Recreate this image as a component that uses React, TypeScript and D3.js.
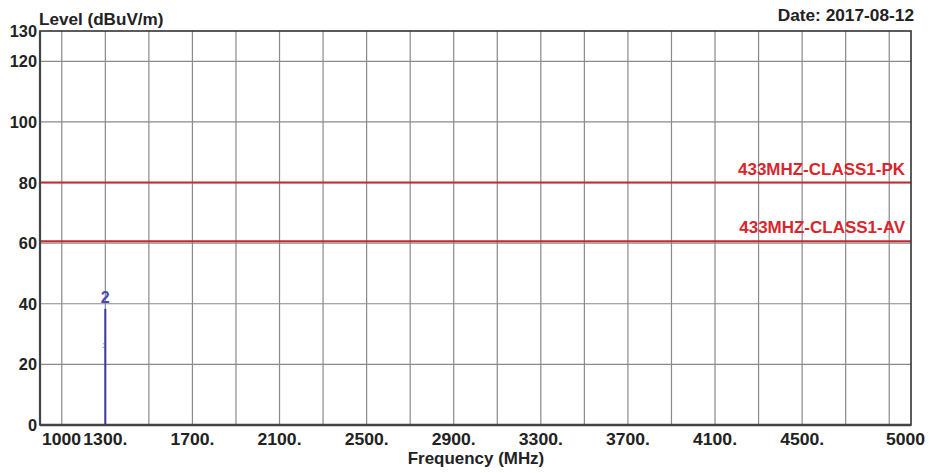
import React, { useEffect, useRef } from "react";
import * as d3 from "d3";

// Axis ranges and grid
const freqDomain: [number, number] = [1000, 5000];
const levelDomain: [number, number] = [0, 130];
const freqGrid = [1100, 1300, 1500, 1700, 1900, 2100, 2300, 2500, 2700, 2900, 3100, 3300, 3500, 3700, 3900, 4100, 4300, 4500, 4700, 4900];
const freqTickLabels = ["1300.", "1700.", "2100.", "2500.", "2900.", "3300.", "3700.", "4100.", "4500."];
const freqTickValues = [1300, 1700, 2100, 2500, 2900, 3300, 3700, 4100, 4500];
const levelGrid = [20, 40, 60, 80, 100, 120];
const levelTicks = [0, 20, 40, 60, 80, 100, 120, 130];

// Limit lines
const limitNames = ["433MHZ-CLASS1-PK", "433MHZ-CLASS1-AV"];
const limitLevels = [80, 60.6];

// Measured trace (single emission at 1300 MHz)
const traceFreq = [1300, 1300];
const traceLevel = [0, 38.3];

// Markers
const markerIds = ["1", "2"];
const markerFreq = [1300, 1300];
const markerLevel = [26.5, 38.3];

const W = 929;
const H = 473;
const M = { left: 40, right: 911, top: 31, bottom: 425 };
const FONT = "'Liberation Sans', Arial, sans-serif";

export default function App() {
  const ref = useRef<SVGSVGElement>(null);

  useEffect(() => {
    const svg = d3.select(ref.current);
    svg.selectAll("*").remove();

    const x = d3.scaleLinear().domain(freqDomain).range([M.left, M.right]);
    const y = d3.scaleLinear().domain(levelDomain).range([M.bottom, M.top]);

    const txt = (
      s: string,
      px: number,
      py: number,
      anchor: string,
      size: number,
      color: string,
      sx = 1.1,
      weight = "bold"
    ) =>
      svg
        .append("text")
        .attr("transform", `translate(${px},${py}) scale(${sx},1)`)
        .attr("text-anchor", anchor)
        .attr("font-family", FONT)
        .attr("font-size", size)
        .attr("font-weight", weight)
        .attr("fill", color)
        .text(s);

    svg.append("rect").attr("width", W).attr("height", H).attr("fill", "#fff");

    // grid
    const g = svg.append("g").attr("stroke", "#8a8a8a").attr("stroke-width", 1.2);
    freqGrid.forEach((f) => {
      g.append("line").attr("x1", x(f)).attr("x2", x(f)).attr("y1", M.top).attr("y2", M.bottom);
    });
    levelGrid.forEach((l) => {
      g.append("line").attr("x1", M.left).attr("x2", M.right).attr("y1", y(l)).attr("y2", y(l));
    });

    // limit lines
    limitLevels.forEach((l, i) => {
      svg
        .append("line")
        .attr("x1", M.left)
        .attr("x2", M.right)
        .attr("y1", y(l))
        .attr("y2", y(l))
        .attr("stroke", "#c42a30")
        .attr("stroke-width", 2);
      txt(limitNames[i], 905, y(l) - 8, "end", 16.5, "#d8262e", 1.03);
    });

    // trace
    const line = d3
      .line<number>()
      .x((_, i) => x(traceFreq[i]))
      .y((d) => y(d));
    svg
      .append("path")
      .attr("d", line(traceLevel))
      .attr("fill", "none")
      .attr("stroke", "#3a3a9c")
      .attr("stroke-width", 2);

    // markers
    markerIds.forEach((id, i) => {
      if (id === "1") {
        txt(id, x(markerFreq[i]) - 1, y(markerLevel[i]) + 3, "middle", 8, "#5a6ad0", 1, "normal");
      } else {
        txt(id, x(markerFreq[i]), y(markerLevel[i]) - 6, "middle", 16, "#4848b8", 1, "bold");
      }
    });

    // frame
    svg
      .append("rect")
      .attr("x", M.left)
      .attr("y", M.top)
      .attr("width", M.right - M.left)
      .attr("height", M.bottom - M.top)
      .attr("fill", "none")
      .attr("stroke", "#333")
      .attr("stroke-width", 1.6);
    svg
      .append("line")
      .attr("x1", M.left)
      .attr("x2", M.right)
      .attr("y1", M.bottom)
      .attr("y2", M.bottom)
      .attr("stroke", "#444")
      .attr("stroke-width", 2.4);
    svg
      .append("line")
      .attr("x1", M.left)
      .attr("x2", M.left)
      .attr("y1", M.top)
      .attr("y2", M.bottom)
      .attr("stroke", "#444")
      .attr("stroke-width", 2.2);

    // y tick labels
    levelTicks.forEach((l) => {
      txt(String(l), 37, y(l) + 6, "end", 16, "#222", 1.02);
    });

    // x tick labels
    freqTickValues.forEach((f, i) => {
      txt(freqTickLabels[i], x(f), 445, "middle", 16, "#222");
    });
    txt("1000", 42, 445, "start", 16, "#222");
    txt("5000", 925, 445, "end", 16, "#222");

    // titles
    txt("Level (dBuV/m)", 39, 25, "start", 16, "#222", 1.07);
    txt("Date: 2017-08-12", 914, 21, "end", 16, "#222", 1.08);
    txt("Frequency (MHz)", 476, 464, "middle", 16, "#222", 1.06);
  }, []);

  return (
    <svg
      ref={ref}
      width={W}
      height={H}
      style={{ position: "fixed", left: 0, top: 0, display: "block" }}
    />
  );
}
